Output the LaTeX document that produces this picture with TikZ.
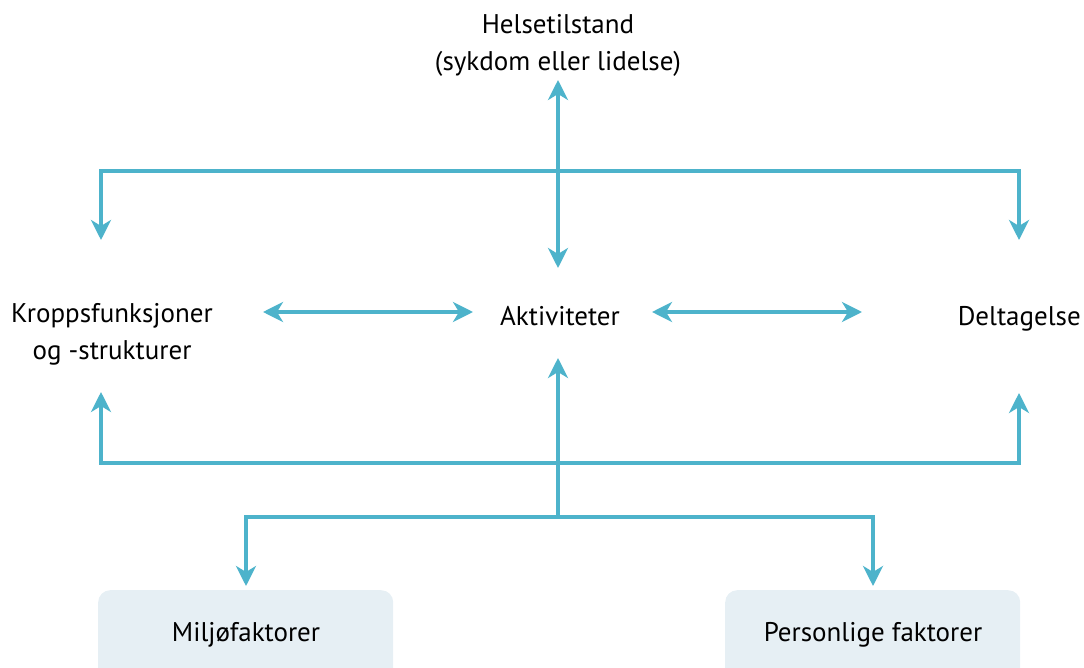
\documentclass[tikz,border=0pt]{standalone}
\usepackage{fontspec}
\setmainfont{PT Sans}
\usetikzlibrary{arrows.meta}
\definecolor{linec}{HTML}{4DB3CB}
\definecolor{boxc}{HTML}{E6EFF4}
\tikzset{
  conn/.style={draw=linec, line width=4pt, -{Stealth[length=20pt,width=20pt,inset=6pt]}},
  conn2/.style={conn, {Stealth[length=20pt,width=20pt,inset=6pt]}-{Stealth[length=20pt,width=20pt,inset=6pt]}},
  lbl/.style={font=\fontsize{27}{37}\selectfont, inner sep=0pt, align=center},
  fbox/.style={fill=boxc, rounded corners=12pt, minimum width=295pt, minimum height=100pt, inner sep=0pt}
}
\begin{document}
\begin{tikzpicture}[x=1pt,y=-1pt]
\useasboundingbox (0,0) rectangle (1084,668);
\node[lbl] (helse) at (558,45) {Helsetilstand\\(sykdom eller lidelse)};
\node[lbl] (krop) at (112,334) {Kroppsfunksjoner\\og -strukturer};
\node[lbl, anchor=base] (akt) at (560,325) {Aktiviteter};
\node[lbl, anchor=base east] (delt) at (1081,325) {Deltagelse};
\begin{scope}
\clip (0,0) rectangle (1084,668);
\node[fbox, anchor=north west] (milj) at (98,590) {};
\node[fbox, anchor=north west] (pers) at (725,590) {};
\end{scope}
\node[lbl] (miljt) at (246,635) {Miljøfaktorer};
\node[lbl] (perst) at (873,635) {Personlige faktorer};

\coordinate (ttop) at (558,80);
\coordinate (tbot) at (558,268);
\coordinate (tl) at (101,171);
\coordinate (tr) at (1019,171);
\coordinate (tla) at (101,240);
\coordinate (tra) at (1019,240);
\coordinate (bl) at (101,463);
\coordinate (br) at (1019,463);
\coordinate (bla) at (101,392);
\coordinate (bra) at (1019,393);
\coordinate (bj) at (558,517);
\coordinate (btop) at (558,358);
\coordinate (fl) at (246,517);
\coordinate (fr) at (873,517);
\coordinate (fla) at (246,586);
\coordinate (fra) at (873,586);
\coordinate (h1a) at (263,312);
\coordinate (h1b) at (473,312);
\coordinate (h2a) at (652,312);
\coordinate (h2b) at (862,312);

\draw[conn2] (tbot) -- (ttop);
\draw[conn, line join=miter] (tr) -- (tl) -- (tla);
\draw[conn, line join=miter] (tl) -- (tr) -- (tra);
\draw[conn2] (h1a) -- (h1b);
\draw[conn2] (h2a) -- (h2b);
\draw[conn] (bj) -- (btop);
\draw[conn, line join=miter] (br) -- (bl) -- (bla);
\draw[conn, line join=miter] (bl) -- (br) -- (bra);
\draw[conn, line join=miter] (fr) -- (fl) -- (fla);
\draw[conn, line join=miter] (fl) -- (fr) -- (fra);
\end{tikzpicture}
\end{document}
